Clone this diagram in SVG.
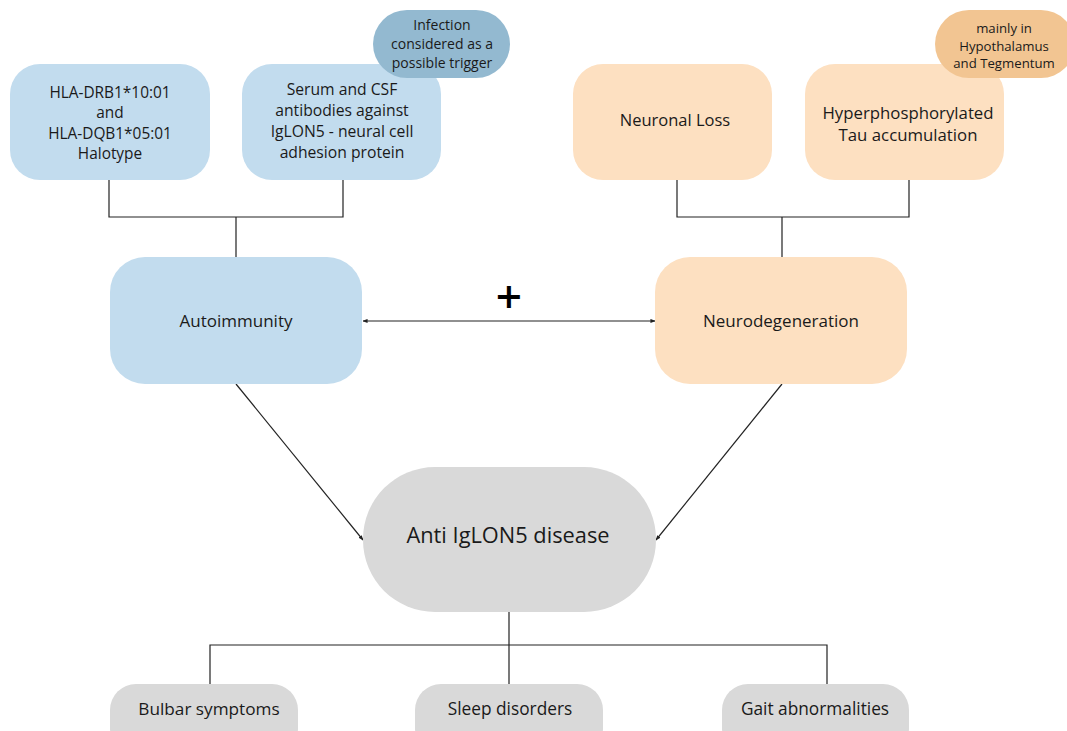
<svg xmlns="http://www.w3.org/2000/svg" width="1067" height="731" viewBox="0 0 1067 731">
<style>
.t{font-family:"Open Sans","Liberation Sans",sans-serif;fill:#1a1a1a;text-anchor:middle;dominant-baseline:central}
.blue{fill:#c2dcee}
.peach{fill:#fde0c1}
.gray{fill:#d9d9d9}
.ln{stroke:#222;stroke-width:1.2;fill:none}
</style>
<defs>
<marker id="ah" viewBox="0 0 6 6" refX="5.5" refY="3" markerWidth="5" markerHeight="5" orient="auto-start-reverse" markerUnits="userSpaceOnUse">
<path d="M0,0.5 L6,3 L0,5.5 z" fill="#222"/>
</marker>
</defs>
<rect width="1067" height="731" fill="#fff"/>
<g id="connectors">
<path class="ln" d="M109,180 V217 H343 V180 M236,217 V257"/>
<path class="ln" d="M677,180 V217 H909 V180 M782,217 V257"/>
<line class="ln" x1="363" y1="321" x2="655" y2="321" marker-start="url(#ah)" marker-end="url(#ah)"/>
<line class="ln" x1="236" y1="384" x2="363" y2="540" marker-end="url(#ah)"/>
<line class="ln" x1="782" y1="384" x2="656" y2="540" marker-end="url(#ah)"/>
<path class="ln" d="M509,612 V685 M210,685 V645 H827 V685"/>
</g>
<g id="hla">
<rect class="blue" x="10" y="64" width="200" height="116" rx="30"/>
<text class="t" font-size="15.4"><tspan x="110" y="91.5">HLA-DRB1*10:01</tspan><tspan x="110" y="112">and</tspan><tspan x="110" y="132.5">HLA-DQB1*05:01</tspan><tspan x="110" y="152.5">Halotype</tspan></text>
</g>
<g id="serum">
<rect class="blue" x="242" y="64" width="199" height="116" rx="30"/>
<text class="t" font-size="15.7"><tspan x="342" y="88.5">Serum and CSF</tspan><tspan x="342" y="109.5">antibodies against</tspan><tspan x="342" y="130.5">IgLON5 - neural cell</tspan><tspan x="342" y="151.5">adhesion protein</tspan></text>
</g>
<g id="infection">
<rect x="373" y="10" width="137" height="68" rx="34" fill="#93b9d0"/>
<text class="t" font-size="14"><tspan x="442" y="23.5">Infection</tspan><tspan x="442" y="42.5">considered as a</tspan><tspan x="442" y="61.5">possible trigger</tspan></text>
</g>
<g id="neuronal">
<rect class="peach" x="573" y="64" width="199" height="116" rx="30"/>
<text class="t" font-size="16.5" x="675" y="119.5">Neuronal Loss</text>
</g>
<g id="tau">
<rect class="peach" x="805" y="64" width="199" height="116" rx="30"/>
<text class="t" font-size="16.8"><tspan x="908" y="111.5">Hyperphosphorylated</tspan><tspan x="908" y="133.5">Tau accumulation</tspan></text>
</g>
<g id="mainly">
<rect x="935" y="10" width="140" height="68" rx="34" fill="#f2c592"/>
<text class="t" font-size="13.2"><tspan x="1004" y="27.5">mainly in</tspan><tspan x="1004" y="45.5">Hypothalamus</tspan><tspan x="1004" y="62.5">and Tegmentum</tspan></text>
</g>
<g id="autoimmunity">
<rect class="blue" x="110" y="257" width="252" height="127" rx="35"/>
<text class="t" font-size="17" x="236" y="320.5">Autoimmunity</text>
</g>
<g id="plus">
<text class="t" font-size="46" font-weight="600" fill="#000" style="fill:#000" x="509" y="295">+</text>
</g>
<g id="neurodegeneration">
<rect class="peach" x="655" y="257" width="252" height="127" rx="35"/>
<text class="t" font-size="17" x="781" y="320.5">Neurodegeneration</text>
</g>
<g id="disease">
<rect class="gray" x="363" y="467" width="293" height="145" rx="72"/>
<text class="t" font-size="21.8" x="508" y="534.5">Anti IgLON5 disease</text>
</g>
<g id="bulbar">
<rect class="gray" x="110" y="684" width="188" height="70" rx="26"/>
<text class="t" font-size="17.2" x="209" y="708.5">Bulbar symptoms</text>
</g>
<g id="sleep">
<rect class="gray" x="415" y="684" width="188" height="70" rx="26"/>
<text class="t" font-size="17.3" x="510" y="708.5">Sleep disorders</text>
</g>
<g id="gait">
<rect class="gray" x="722" y="684" width="187" height="70" rx="26"/>
<text class="t" font-size="17.3" x="815" y="708.5">Gait abnormalities</text>
</g>
</svg>
